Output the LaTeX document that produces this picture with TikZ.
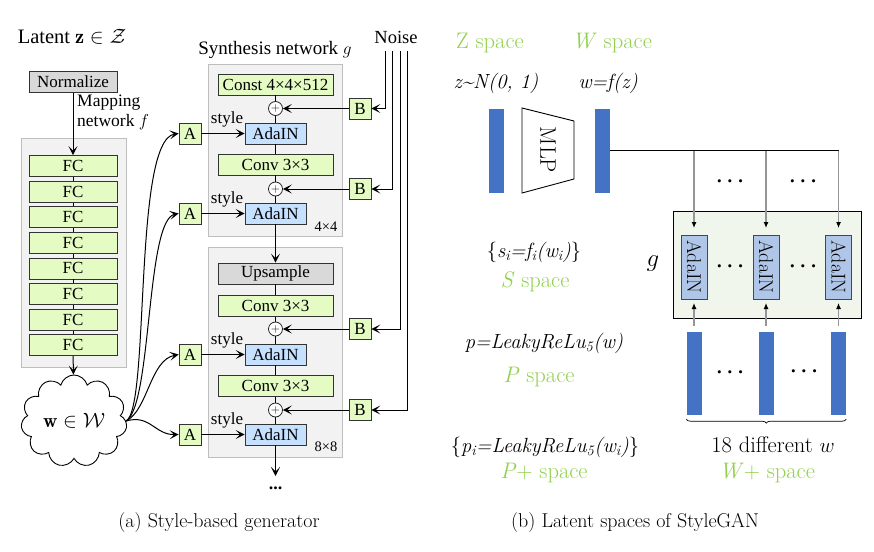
\documentclass[tikz,border=0pt]{standalone}
\usepackage{fontspec}
\newfontfamily\tms{Liberation Serif}
\usetikzlibrary{arrows.meta,shapes.symbols,decorations.pathreplacing,calc}
\newcommand\fsz[1]{\fontsize{#1}{#1}\selectfont}
\definecolor{fcgreen}{RGB}{229,251,196}
\definecolor{boxgray}{RGB}{217,217,217}
\definecolor{adablue}{RGB}{197,225,255}
\definecolor{blkfill}{RGB}{242,242,242}
\definecolor{blkdraw}{RGB}{190,190,190}
\definecolor{spgreen}{RGB}{146,208,80}
\definecolor{barblue}{RGB}{68,114,196}
\definecolor{gfill}{RGB}{240,246,236}
\definecolor{radafill}{RGB}{176,198,232}
\definecolor{radadraw}{RGB}{60,72,96}
\definecolor{vgray}{RGB}{150,150,150}
\begin{document}
\begin{tikzpicture}[x=1pt,y=-1pt,
 ltxt/.style={font=\tms\fsz{17}, inner sep=0pt},
 box/.style={draw=black!80, line width=0.8pt, inner sep=0pt, minimum height=21pt, font=\tms\fsz{17}},
 gbx/.style={box, fill=fcgreen},
 graybox/.style={box, fill=boxgray},
 abox/.style={box, fill=adablue, minimum width=61pt},
 wbox/.style={minimum width=115pt},
 sbox/.style={gbx, minimum width=22pt},
 blk/.style={draw=blkdraw, fill=blkfill, line width=1pt, inner sep=0pt},
 plus/.style={circle, draw=black!85, fill=white, line width=0.8pt, minimum size=14pt, inner sep=0pt, font=\fsz{12}},
 arr/.style={-{Stealth[length=9pt,width=9pt,inset=4.5pt]}, line width=1pt},
 ln/.style={line width=1pt},
 rtxt/.style={font=\fsz{20.5}, inner sep=0pt},
 sp/.style={font=\fsz{22.5}, inner sep=0pt, text=spgreen},
 bar/.style={fill=barblue, minimum width=15pt, minimum height=84pt, inner sep=0pt},
 rada/.style={draw=radadraw, fill=radafill, line width=0.8pt, minimum width=64pt, minimum height=26pt, inner sep=0pt, font=\fsz{20}},
 garr/.style={draw=vgray, line width=1.1pt, -{Latex[length=6pt,width=5pt,color=black]}},
 dts/.style={font=\fsz{21}\boldmath, inner sep=0pt},
]
\useasboundingbox (0,0) rectangle (874,551);

% ---------------- left: style-based generator ----------------
\node[ltxt, font=\tms\fsz{20.5}] (latent) at (72,37) {Latent\hspace{5pt}$\mathbf{z}\in\mathcal{Z}$};
\node[graybox, minimum width=88pt] (norm) at (73,82) {Normalize};
\node[ltxt, font=\tms\fontsize{17.5}{20}\selectfont, align=left, anchor=north west] (mapl) at (77,95) {Mapping\\network $f$};

\node[blk, minimum width=105pt, minimum height=229pt] (mapblk) at (73.5,252.5) {};
\foreach \i in {0,...,7} \node[gbx, minimum width=88pt] (fc\i) at (73,{166+25.6*\i}) {FC};
\draw[arr] (norm) -- (fc0);
\foreach \i/\j in {0/1,1/2,2/3,3/4,4/5,5/6,6/7} \draw[line width=0.8pt] (fc\i) -- (fc\j);

\node[cloud, draw, cloud puffs=11, cloud ignores aspect, minimum width=106pt, minimum height=92pt, line width=0.9pt, inner sep=0pt, font=\fsz{20}] (w) at (74,421) {$\mathbf{w}\in\mathcal{W}$};
\draw[arr] (fc7) -- (w);

% synthesis block 1
\node[blk, minimum width=134pt, minimum height=172pt] (blk1) at (275,150) {};
\node[ltxt, font=\tms\fsz{19}] (syn) at (275,50) {Synthesis network $g$};
\node[gbx, wbox] (const) at (275.5,84.5) {Const 4×4×512};
\node[plus] (p1) at (275.5,108.5) {$+$};
\node[abox] (ada1) at (275.5,133.5) {AdaIN};
\node[gbx, wbox] (conv1) at (275.5,164.5) {Conv 3×3};
\node[plus] (p2) at (275.5,189) {$+$};
\node[abox] (ada2) at (275.5,213.5) {AdaIN};
\node[ltxt, font=\tms\fsz{14.5}] (l44) at (326,227) {4×4};

% synthesis block 2
\node[blk, minimum width=134pt, minimum height=210pt] (blk2) at (275,352) {};
\node[graybox, wbox] (ups) at (275.5,273.5) {Upsample};
\node[gbx, wbox] (conv2) at (275.5,306) {Conv 3×3};
\node[plus] (p3) at (275.5,329) {$+$};
\node[abox] (ada3) at (275.5,354.5) {AdaIN};
\node[gbx, wbox] (conv3) at (275.5,386) {Conv 3×3};
\node[plus] (p4) at (275.5,410) {$+$};
\node[abox] (ada4) at (275.5,434.5) {AdaIN};
\node[ltxt, font=\tms\fsz{14.5}] (l88) at (326,447) {8×8};
\coordinate (outc) at (275.5,476);
\node[ltxt, font=\tms\bfseries\fsz{18}] (more) at (275.5,488) {...};

\draw[ln] (const) -- (p1) -- (ada1) -- (conv1) -- (p2) -- (ada2);
\draw[arr] (ada2) -- (ups);
\draw[ln] (ups) -- (conv2) -- (p3) -- (ada3) -- (conv3) -- (p4) -- (ada4);
\draw[arr] (ada4) -- (outc);

% A and B boxes
\node[sbox] (a1) at (190,133.5) {A};
\node[sbox] (a2) at (190,213.5) {A};
\node[sbox] (a3) at (190,354.5) {A};
\node[sbox] (a4) at (190,434.5) {A};
\node[sbox] (b1) at (360,108.5) {B};
\node[sbox] (b2) at (360,189) {B};
\node[sbox] (b3) at (360,329) {B};
\node[sbox] (b4) at (360,410) {B};
\foreach \k in {1,2,3,4} {
  \draw[arr] (a\k) -- (ada\k);
  \draw[arr] (b\k) -- (p\k);
}
\node[ltxt] (st1) at (227,119.5) {style};
\node[ltxt] (st2) at (227,199.5) {style};
\node[ltxt] (st3) at (227,340.5) {style};
\node[ltxt] (st4) at (227,420.5) {style};

% noise
\node[ltxt, font=\tms\fsz{18.5}] (noise) at (396,37) {Noise};
\coordinate (n1) at (385,51);
\coordinate (n2) at (392.5,51);
\coordinate (n3) at (400,51);
\coordinate (n4) at (407.5,51);
\draw[arr] (n1) |- (b1);
\draw[arr] (n2) |- (b2);
\draw[arr] (n3) |- (b3);
\draw[arr] (n4) |- (b4);

% curves from w
\draw[arr] (w.east) .. controls (150,408) and (133,140) .. (a1.west);
\draw[arr] (w.east) .. controls (152,405) and (146,220) .. (a2.west);
\draw[arr] (w.east) .. controls (148,410) and (150,360) .. (a3.west);
\draw[arr] (w.east) .. controls (150,414) and (155,435) .. (a4.west);

\node[font=\fsz{20}] (capa) at (219,523) {(a) Style-based generator};

% ---------------- right: latent spaces ----------------
\node[sp] (zsp) at (490,43) {Z space};
\node[sp] (wsp) at (612,43) {\textit{W} space};
\node[rtxt] (zf) at (496,83) {\textit{z\textasciitilde N(0, 1)}};
\node[rtxt] (wf) at (608,83) {\textit{w=f(z)}};
\node[bar] (zbar) at (496.5,150.5) {};
\node[bar] (wbar) at (602,150.5) {};
\draw[line width=0.9pt] (522,108) -- (574,121) -- (574,179) -- (522,193) -- cycle;
\node[font=\fsz{22.5}, inner sep=0pt, rotate=-90] (mlp) at (548,150) {MLP};

\node[draw, fill=gfill, line width=1pt, minimum width=188pt, minimum height=107pt, inner sep=0pt] (gblk) at (767,264.5) {};
\node[inner sep=0pt, font=\fsz{25}] (glab) at (653,264) {$g$};
\node[rada, rotate=-90] (r1) at (694,267) {AdaIN};
\node[rada, rotate=-90] (r2) at (766,267) {AdaIN};
\node[rada, rotate=-90] (r3) at (838.5,267) {AdaIN};

\coordinate (t1) at (694,150.5);
\coordinate (t2) at (766,150.5);
\coordinate (t3) at (838.5,150.5);
\draw[line width=0.8pt] (wbar.east) -- (t3);

\node[bar, minimum height=83pt] (wb1) at (694,373.5) {};
\node[bar, minimum height=83pt] (wb2) at (766,373.5) {};
\node[bar, minimum height=83pt] (wb3) at (838.5,373.5) {};

\foreach \k in {1,2,3} {
  \draw[garr] (t\k) -- ($(r\k.center)+(0,-39)$);
  \draw[garr] ($(wb\k.north)+(0,-6)$) -- ($(r\k.center)+(0,36)$);
}

\node[dts] (d1) at (730,182) {$\cdots$};
\node[dts] (d2) at (803,182) {$\cdots$};
\node[dts] (d3) at (730,267) {$\cdots$};
\node[dts] (d4) at (803,267) {$\cdots$};
\node[dts] (d5) at (730,373) {$\cdots$};
\node[dts] (d6) at (804,372) {$\cdots$};

\draw[line width=0.7pt, decorate, decoration={brace, amplitude=4pt, mirror}] ($(wb1.south west)+(0,4)$) -- ($(wb3.south east)+(0,4)$);
\node[sp, text=black] (diff) at (773,445) {18 different $w$};
\node[sp] (wpsp) at (767,473) {\textit{W}+ space};

\node[rtxt] (sf) at (534,252) {\{\textit{s\textsubscript{i}=f\textsubscript{i}(w\textsubscript{i})}\}};
\node[sp] (ssp) at (535,282) {\textit{S} space};
\node[rtxt] (pf) at (544,343) {\textit{p=LeakyReLu\textsubscript{5}(w)}};
\node[sp] (psp) at (539,377) {\textit{P} space};
\node[rtxt] (ppf) at (545,447) {\{\textit{p\textsubscript{i}=LeakyReLu\textsubscript{5}(w\textsubscript{i})}\}};
\node[sp] (ppsp) at (544,473) {\textit{P}+ space};

\node[font=\fsz{20}] (capb) at (635,523) {(b) Latent spaces of StyleGAN};
\end{tikzpicture}
\end{document}
